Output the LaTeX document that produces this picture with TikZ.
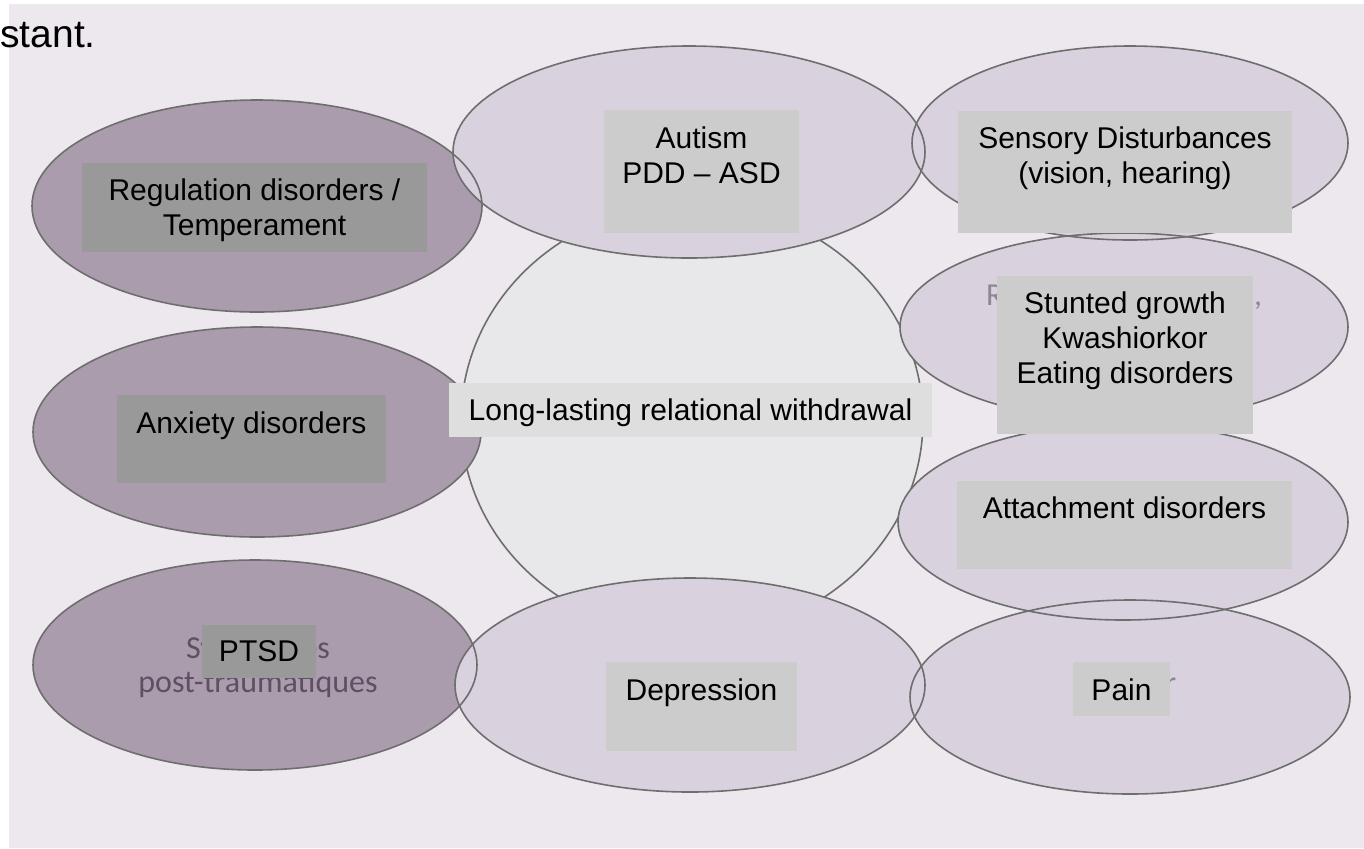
\documentclass[tikz,border=0pt]{standalone}
\usepackage{fontspec}
\setmainfont{Liberation Sans}
\newfontfamily\scanfont{Carlito}
\usepackage{xcolor}

\definecolor{paper}{HTML}{EDE8EE}
\definecolor{mauve}{HTML}{AA9CAC}
\definecolor{lilac}{HTML}{D9D2DE}
\definecolor{mist}{HTML}{E8E8EA}
\definecolor{rim}{HTML}{6E6E6E}
\definecolor{boxdark}{HTML}{999999}
\definecolor{boxlight}{HTML}{CCCCCC}
\definecolor{boxmid}{HTML}{DEDEDE}
\definecolor{ghostdark}{HTML}{5E5062}
\definecolor{ghostlight}{HTML}{8C8790}

\begin{document}
\begin{tikzpicture}[x=0.5pt,y=-0.5pt,
    rimline/.style={draw=rim, line width=0.8pt},
    patch/.style={rectangle, inner sep=0pt, draw=none},
    lbl/.style={font=\fontsize{15}{17.5}\selectfont, align=center, inner sep=0pt, anchor=north},
    ghost/.style={font=\scanfont\fontsize{16}{17}\selectfont, inner sep=0pt, anchor=base}]
                \useasboundingbox (0,0) rectangle (1364,848);
                \fill[paper] (9,4) rectangle (1364,848);

                \node[font=\fontsize{19.5}{20}\selectfont, anchor=base west, inner sep=0pt] (stant) at (0,47) {stant.};

                % centres of the blobs
                \coordinate (mid)  at (692,420);
                \coordinate (reg)  at (257,206);
                \coordinate (anx)  at (257,432);
                \coordinate (ptsd) at (255,665);
                \coordinate (aut)  at (689,152);
                \coordinate (dep)  at (690,685);
                \coordinate (sens) at (1130,143);
                \coordinate (stun) at (1124,327);
                \coordinate (att)  at (1123,522);
                \coordinate (pain) at (1130,697);

                \filldraw[fill=mist, rimline] (mid) ellipse (231 and 216);

                \fill[mauve] (reg)  ellipse (225 and 106);
                \fill[mauve] (anx)  ellipse (224 and 105);
                \fill[mauve] (ptsd) ellipse (222 and 105);

                \fill[lilac] (aut)  ellipse (236 and 106);
                \fill[lilac] (dep)  ellipse (235 and 107);
                \fill[lilac] (sens) ellipse (218 and 97);
                \fill[lilac] (stun) ellipse (224 and 94);
                \fill[lilac] (att)  ellipse (225 and 98);
                \fill[lilac] (pain) ellipse (220 and 97);

                \draw[rimline] (reg)  ellipse (225 and 106);
                \draw[rimline] (anx)  ellipse (224 and 105);
                \draw[rimline] (ptsd) ellipse (222 and 105);
                \draw[rimline] (aut)  ellipse (236 and 106);
                \draw[rimline] (dep)  ellipse (235 and 107);
                \draw[rimline] (sens) ellipse (218 and 97);
                \draw[rimline] (stun) ellipse (224 and 94);
                \draw[rimline] (att)  ellipse (225 and 98);
                \draw[rimline] (pain) ellipse (220 and 97);

                % old labels showing round the patches
                \node[ghost, text=ghostdark] (synd) at (258,658) {Syndromes};
                \node[ghost, text=ghostdark] (post) at (258,692) {post-traumatiques};
                \node[ghost, text=ghostlight] (retard) at (1124,305) {Retard de croissance,};
                \node[ghost, text=ghostlight] (douleur) at (1124,693) {Douleur};

                % grey patches
                \node[patch, fill=boxdark, minimum width=172.5pt, minimum height=44.5pt] (regbox) at (254.5,207.5) {};
                \node[patch, fill=boxdark, minimum width=134.5pt, minimum height=44pt] (anxbox) at (251.5,439) {};
                \node[patch, fill=boxdark, minimum width=57pt, minimum height=26.5pt] (ptsdbox) at (259,651.5) {};
                \node[patch, fill=boxlight, minimum width=97.5pt, minimum height=61.5pt] (autbox) at (701.5,171.5) {};
                \node[patch, fill=boxlight, minimum width=167pt, minimum height=61pt] (sensbox) at (1125,172) {};
                \node[patch, fill=boxlight, minimum width=128pt, minimum height=79pt] (stunbox) at (1125,355) {};
                \node[patch, fill=boxmid, minimum width=241.5pt, minimum height=27pt] (midbox) at (690.5,410) {};
                \node[patch, fill=boxlight, minimum width=167.5pt, minimum height=44pt] (attbox) at (1124.5,525) {};
                \node[patch, fill=boxlight, minimum width=48.5pt, minimum height=27pt] (painbox) at (1121.5,689) {};
                \node[patch, fill=boxlight, minimum width=95.5pt, minimum height=44.5pt] (depbox) at (701.5,706.5) {};

                \node[lbl] (reglbl) at (254.5,178.5) {Regulation disorders /\\Temperament};
                \node[lbl] (anxlbl) at (251.5,411.5) {Anxiety disorders};
                \node[lbl] (ptsdlbl) at (259,640.5) {PTSD};
                \node[lbl] (autlbl) at (701.5,126.5) {Autism\\PDD – ASD};
                \node[lbl] (senslbl) at (1125,126.5) {Sensory Disturbances\\(vision, hearing)};
                \node[lbl] (stunlbl) at (1125,291.5) {Stunted growth\\Kwashiorkor\\Eating disorders};
                \node[lbl] (midlbl) at (690.5,398.5) {Long-lasting relational withdrawal};
                \node[lbl] (attlbl) at (1124.5,496.5) {Attachment disorders};
                \node[lbl] (painlbl) at (1121.5,678.5) {Pain};
                \node[lbl] (deplbl) at (701.5,678.5) {Depression};
            \end{tikzpicture}
\end{document}
